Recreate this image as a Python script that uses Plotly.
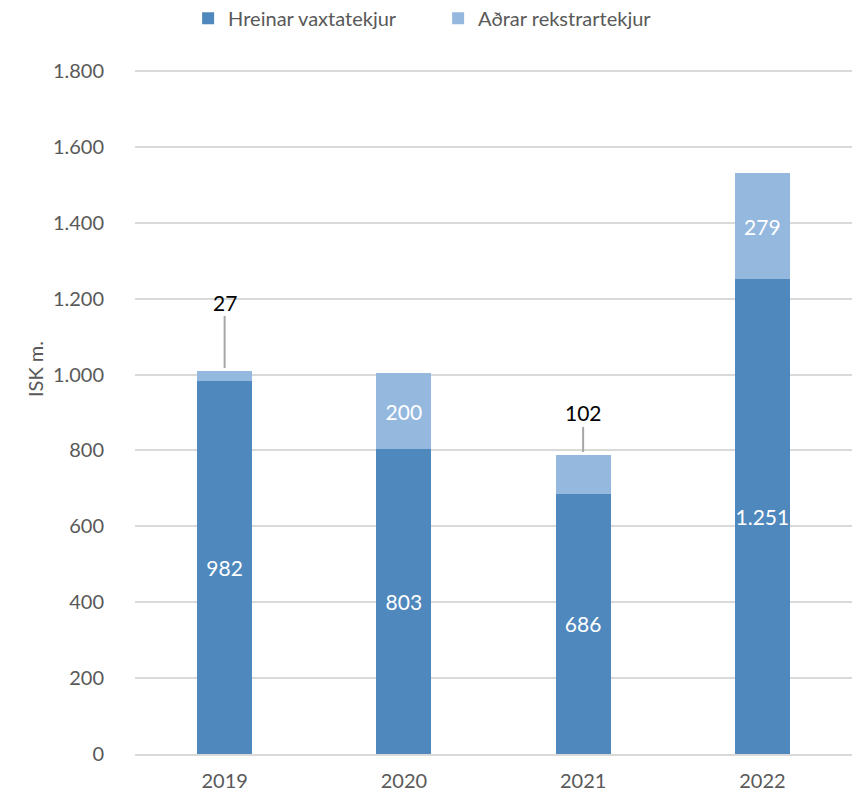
import plotly.graph_objects as go

years = ['2019', '2020', '2021', '2022']
hreinar = [982, 803, 686, 1251]
adrar = [27, 200, 102, 279]
y_ticks = [0, 200, 400, 600, 800, 1000, 1200, 1400, 1600, 1800]

dark = '#4F88BC'
light = '#95B8DF'
grey = '#595959'
font_name = 'Lato, Open Sans, sans-serif'

# small segments get their label above the bar with a leader line
small = [v < 150 for v in adrar]
adrar_text = ['' if s else '%{y:,}' for s in small]

fig = go.Figure()
fig.add_trace(go.Bar(
    x=years, y=hreinar, name='Hreinar vaxtatekjur',
    marker_color=dark, marker_line_width=0,
    texttemplate='%{y:,}', textposition='inside', insidetextanchor='middle',
    textangle=0, constraintext='none',
    textfont=dict(color='white', size=21, family=font_name),
))
fig.add_trace(go.Bar(
    x=years, y=adrar, name='Aðrar rekstrartekjur',
    marker_color=light, marker_line_width=0,
    texttemplate=adrar_text, textposition='inside', insidetextanchor='middle',
    textangle=0, constraintext='none',
    textfont=dict(color='white', size=21, family=font_name),
))

for i in range(len(years)):
    if small[i]:
        # category index, so the year strings are not read as numbers
        fig.add_annotation(
            x=i, y=hreinar[i] + adrar[i],
            text=f'{adrar[i]:,}'.replace(',', '.'),
            showarrow=True, arrowhead=0, arrowwidth=2, arrowcolor='#A6A6A6',
            ax=0, ay=-69 if i == 0 else -42, standoff=3,
            font=dict(color='black', size=21, family=font_name),
        )

# axis title as annotation so it can sit a bit above the middle like the original
fig.add_annotation(
    text='ISK m.', xref='paper', yref='paper', x=-0.1395, y=0.562,
    xanchor='center', yanchor='middle',
    textangle=-90, showarrow=False,
    font=dict(size=20, color=grey, family=font_name),
)

fig.update_layout(
    width=859, height=796,
    barmode='stack', bargap=0.693,
    separators=',.',
    plot_bgcolor='white', paper_bgcolor='white',
    margin=dict(l=135, r=7, t=69, b=42),
    font=dict(family=font_name, color=grey, size=16),
    legend=dict(orientation='h', xref='container', yref='container',
                x=0.219, xanchor='left', y=0.977, yanchor='middle',
                entrywidth=205, entrywidthmode='pixels',
                font=dict(size=20, color=grey), traceorder='normal'),
    uniformtext=dict(mode='show', minsize=21),
)
fig.update_yaxes(
    range=[0, 1805], tickvals=y_ticks, tickformat=',',
    gridcolor='#D9D9D9', gridwidth=1.5, zeroline=False,
    showline=False, ticks='', ticklabelstandoff=30, automargin=False,
    tickfont=dict(size=20),
)
fig.update_xaxes(
    type='category', range=[-0.5, 3.5], automargin=False,
    showline=True, linecolor='#D9D9D9', linewidth=1.5,
    ticks='', tickfont=dict(size=20), ticklabelstandoff=8,
)

fig.write_html('out.html', config={'displayModeBar': False},
               post_script="document.body.style.margin='0';")
